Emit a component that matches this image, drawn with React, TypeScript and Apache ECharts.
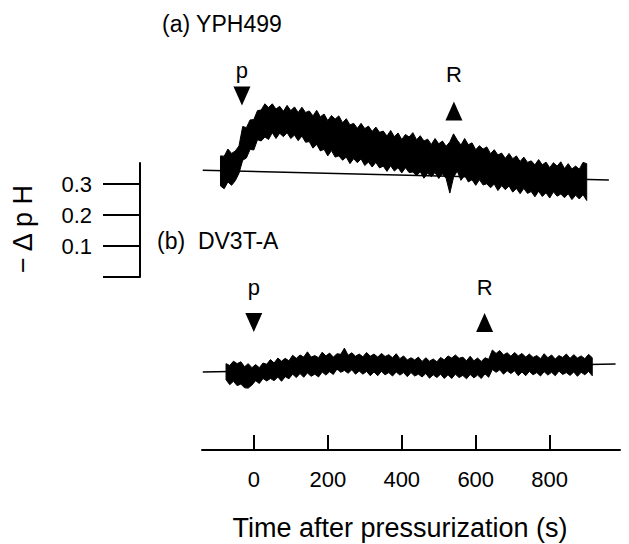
import React, { useEffect, useRef } from 'react';
import * as echarts from 'echarts';

const FONT = "'Liberation Sans', Arial, Helvetica, sans-serif";

// x axis (time after pressurization, s)
const xMin = -140;
const xMax = 990;
const xTicks = [0, 200, 400, 600, 800];

// scale bar (−ΔpH)
const scaleTicks = [0, 0.1, 0.2, 0.3];
const scaleLabels = [0.1, 0.2, 0.3];

// sampling of the traces (s)
const sampleStep = 10;
const aStart = -90;
const bStart = -75;

// (a) YPH499 : upper / lower edge of the noisy trace (−ΔpH, relative to start baseline)
const aUpper = [
  0.052, 0.051, 0.074, 0.060, 0.068, 0.084, 0.147, 0.143, 0.168, 0.169,
  0.198, 0.200, 0.220, 0.208, 0.220, 0.203, 0.212, 0.196, 0.215, 0.198,
  0.210, 0.192, 0.209, 0.192, 0.197, 0.181, 0.199, 0.178, 0.187, 0.166,
  0.182, 0.171, 0.181, 0.159, 0.172, 0.152, 0.157, 0.141, 0.157, 0.140,
  0.148, 0.131, 0.145, 0.128, 0.132, 0.116, 0.134, 0.114, 0.126, 0.105,
  0.121, 0.113, 0.127, 0.104, 0.117, 0.100, 0.106, 0.089, 0.108, 0.091,
  0.100, 0.083, 0.097, 0.123, 0.103, 0.087, 0.108, 0.088, 0.094, 0.072,
  0.085, 0.074, 0.081, 0.059, 0.072, 0.055, 0.061, 0.044, 0.060, 0.043,
  0.052, 0.034, 0.048, 0.031, 0.036, 0.023, 0.040, 0.023, 0.032, 0.014,
  0.030, 0.019, 0.033, 0.011, 0.027, 0.010, 0.019, 0.009, 0.031, 0.027,
];
const aLower = [
  -0.045, -0.054, -0.032, -0.043, -0.028, -0.004, 0.038, 0.045, 0.073, 0.071,
  0.104, 0.100, 0.113, 0.105, 0.127, 0.108, 0.125, 0.114, 0.127, 0.108,
  0.119, 0.101, 0.116, 0.096, 0.098, 0.077, 0.089, 0.068, 0.073, 0.052,
  0.069, 0.048, 0.052, 0.038, 0.048, 0.027, 0.043, 0.030, 0.042, 0.021,
  0.032, 0.016, 0.031, 0.013, 0.019, 0.002, 0.020, 0.003, 0.014, -0.003,
  0.014, -0.002, 0.000, -0.012, 0.001, -0.020, -0.004, -0.015, -0.002, -0.021,
  -0.006, -0.021, -0.068, -0.017, 0.003, -0.027, -0.011, -0.032, -0.025, -0.043,
  -0.025, -0.042, -0.038, -0.051, -0.039, -0.060, -0.044, -0.057, -0.045, -0.065,
  -0.053, -0.070, -0.053, -0.069, -0.063, -0.080, -0.062, -0.079, -0.067, -0.084,
  -0.064, -0.078, -0.071, -0.083, -0.070, -0.089, -0.075, -0.087, -0.073, -0.092,
];
const aBaseline = [
  [-138, 0.006],
  [960, -0.026],
];

// (b) DV3T-A
const bUpper = [
  0.027, 0.021, 0.035, 0.027, 0.033, 0.017, 0.027, 0.014, 0.024, 0.014,
  0.029, 0.025, 0.040, 0.029, 0.045, 0.035, 0.044, 0.036, 0.054, 0.044,
  0.055, 0.048, 0.065, 0.048, 0.053, 0.046, 0.064, 0.052, 0.061, 0.048,
  0.059, 0.057, 0.077, 0.054, 0.062, 0.051, 0.058, 0.049, 0.063, 0.051,
  0.058, 0.048, 0.060, 0.050, 0.056, 0.046, 0.059, 0.043, 0.052, 0.039,
  0.046, 0.039, 0.048, 0.034, 0.046, 0.035, 0.042, 0.033, 0.047, 0.039,
  0.052, 0.045, 0.055, 0.044, 0.048, 0.036, 0.051, 0.036, 0.045, 0.034,
  0.046, 0.041, 0.071, 0.060, 0.069, 0.055, 0.062, 0.051, 0.063, 0.052,
  0.060, 0.048, 0.058, 0.047, 0.053, 0.043, 0.059, 0.046, 0.055, 0.042,
  0.053, 0.047, 0.058, 0.044, 0.056, 0.045, 0.052, 0.043, 0.057, 0.046,
];
const bLower = [
  -0.025, -0.041, -0.030, -0.044, -0.039, -0.051, -0.052, -0.042, -0.028, -0.037,
  -0.021, -0.029, -0.021, -0.028, -0.016, -0.030, -0.015, -0.022, -0.007, -0.018,
  -0.005, -0.017, -0.003, -0.014, -0.007, -0.016, 0.000, -0.010, 0.001, -0.008,
  0.010, -0.001, 0.005, -0.004, 0.007, -0.007, 0.003, -0.007, 0.002, -0.012,
  0.000, -0.012, 0.002, -0.009, -0.002, -0.013, 0.000, -0.010, -0.002, -0.015,
  -0.002, -0.013, -0.007, -0.016, -0.005, -0.020, -0.009, -0.018, -0.007, -0.021,
  -0.009, -0.021, -0.007, -0.018, -0.011, -0.022, -0.008, -0.019, -0.010, -0.021,
  -0.006, -0.017, 0.008, -0.001, 0.007, -0.007, 0.004, -0.005, 0.004, -0.012,
  0.000, -0.012, 0.002, -0.009, -0.002, -0.013, 0.001, -0.010, -0.001, -0.012,
  0.003, -0.008, -0.002, -0.011, 0.000, -0.014, -0.001, -0.009, 0.002, -0.012,
];
const bBaseline = [
  [-138, 0.0],
  [978, 0.026],
];

// event markers: p = pressurization, R = release
const markerNames = ['p', 'R'];
const aMarkerT = [-32, 541];
const aArrowV = [0.245, 0.197];
const aLetterV = [0.329, 0.313];
const bMarkerT = [0, 624];
const bArrowV = [0.16, 0.16];
const bLetterV = [0.274, 0.272];

function times(start: number, n: number) {
  const out: number[] = [];
  for (let i = 0; i < n; i++) out.push(start + i * sampleStep);
  return out;
}

function traceSeries(id: string, idx: number, start: number, upper: number[], lower: number[], baseline: number[][]) {
  const t = times(start, upper.length);
  return [
    {
      name: id + '-baseline',
      type: 'line',
      xAxisIndex: idx,
      yAxisIndex: idx,
      data: baseline,
      symbol: 'none',
      lineStyle: { color: '#000', width: 1.5 },
      z: 1,
    },
    {
      name: id + '-trace',
      type: 'custom',
      xAxisIndex: idx,
      yAxisIndex: idx,
      data: [[t[0], upper[0]]],
      clip: false,
      z: 2,
      renderItem: (_params: any, api: any) => {
        const pts: number[][] = [];
        for (let i = 0; i < t.length; i++) pts.push(api.coord([t[i], upper[i]]));
        for (let i = t.length - 1; i >= 0; i--) pts.push(api.coord([t[i], lower[i]]));
        return {
          type: 'polygon',
          shape: { points: pts },
          style: { fill: '#000', stroke: '#000', lineWidth: 1 },
        };
      },
    },
  ];
}

function markerSeries(idx: number, ts: number[], arrowV: number[], letterV: number[]) {
  return [
    {
      type: 'scatter',
      xAxisIndex: idx,
      yAxisIndex: idx,
      symbol: 'triangle',
      symbolSize: [17, 19],
      itemStyle: { color: '#000', opacity: 1 },
      data: ts.map((x, i) => ({ value: [x, arrowV[i]], symbolRotate: markerNames[i] === 'p' ? 180 : 0 })),
      z: 3,
    },
    {
      type: 'scatter',
      xAxisIndex: idx,
      yAxisIndex: idx,
      symbol: 'circle',
      symbolSize: 0,
      itemStyle: { color: '#000', opacity: 1 },
      label: {
        show: true,
        position: 'inside',
        formatter: '{b}',
        color: '#000',
        opacity: 1,
        fontSize: 22,
        fontFamily: FONT,
      },
      data: ts.map((x, i) => ({ name: markerNames[i], value: [x, letterV[i]] })),
      z: 3,
    },
  ];
}

export default function App() {
  const ref = useRef<HTMLDivElement>(null);
  useEffect(() => {
    document.body.style.margin = '0';
    if (!ref.current) return;
    const chart = echarts.init(ref.current, null, { renderer: 'svg' });
    const hiddenX = (g: number) => ({ gridIndex: g, type: 'value', min: xMin, max: xMax, show: false });
    const option: any = {
      animation: false,
      backgroundColor: '#fff',
      grid: [
        { left: 202, right: 9, top: 48, height: 217, outerBoundsMode: 'none' },
        { left: 202, right: 9, top: 279, height: 155, outerBoundsMode: 'none' },
        { left: 202, right: 9, top: 400, height: 50, outerBoundsMode: 'none' },
        { left: 140, width: 10, top: 163, height: 114, outerBoundsMode: 'none' },
      ],
      xAxis: [
        hiddenX(0),
        hiddenX(1),
        {
          gridIndex: 2,
          type: 'value',
          min: xMin,
          max: xMax,
          position: 'bottom',
          axisLine: { show: true, lineStyle: { color: '#000', width: 2 } },
          axisTick: { show: true, inside: true, length: 15, customValues: xTicks, lineStyle: { color: '#000', width: 2 } },
          axisLabel: { show: true, customValues: xTicks, margin: 18, color: '#000', fontSize: 22, fontFamily: FONT },
          splitLine: { show: false },
        },
        { gridIndex: 3, type: 'value', min: 0, max: 1, show: false },
      ],
      yAxis: [
        { gridIndex: 0, type: 'value', min: -0.3, max: 0.4, show: false },
        { gridIndex: 1, type: 'value', min: -0.2, max: 0.3, show: false },
        { gridIndex: 2, type: 'value', min: 0, max: 1, show: false },
        {
          gridIndex: 3,
          type: 'value',
          min: 0,
          max: 0.368,
          position: 'left',
          axisLine: { show: true, lineStyle: { color: '#000', width: 2 } },
          axisTick: { show: true, inside: false, length: 37, customValues: scaleTicks, lineStyle: { color: '#000', width: 2 } },
          axisLabel: {
            show: true,
            customValues: scaleLabels,
            margin: 48,
            color: '#000',
            fontSize: 22,
            fontFamily: FONT,
            formatter: (v: number) => v.toFixed(1),
          },
          splitLine: { show: false },
        },
      ],
      graphic: [
        {
          type: 'text',
          x: 162,
          y: 24,
          style: { text: '(a) YPH499', fill: '#000', fontSize: 23, fontFamily: FONT, align: 'left', verticalAlign: 'middle' },
        },
        {
          type: 'text',
          x: 157,
          y: 241,
          style: { text: '(b)  DV3T-A', fill: '#000', fontSize: 23, fontFamily: FONT, align: 'left', verticalAlign: 'middle' },
        },
        {
          type: 'text',
          x: 400,
          y: 528,
          style: { text: 'Time after pressurization (s)', fill: '#000', fontSize: 27, fontFamily: FONT, align: 'center', verticalAlign: 'middle' },
        },
        {
          type: 'text',
          x: 23,
          y: 229,
          rotation: Math.PI / 2,
          style: { text: '− Δ p H', fill: '#000', fontSize: 27, fontFamily: FONT, align: 'center', verticalAlign: 'middle' },
        },
      ],
      series: [
        ...traceSeries('a', 0, aStart, aUpper, aLower, aBaseline),
        ...traceSeries('b', 1, bStart, bUpper, bLower, bBaseline),
        ...markerSeries(0, aMarkerT, aArrowV, aLetterV),
        ...markerSeries(1, bMarkerT, bArrowV, bLetterV),
      ],
    };
    chart.setOption(option);
    return () => chart.dispose();
  }, []);
  return <div ref={ref} style={{ width: 629, height: 544 }} />;
}
